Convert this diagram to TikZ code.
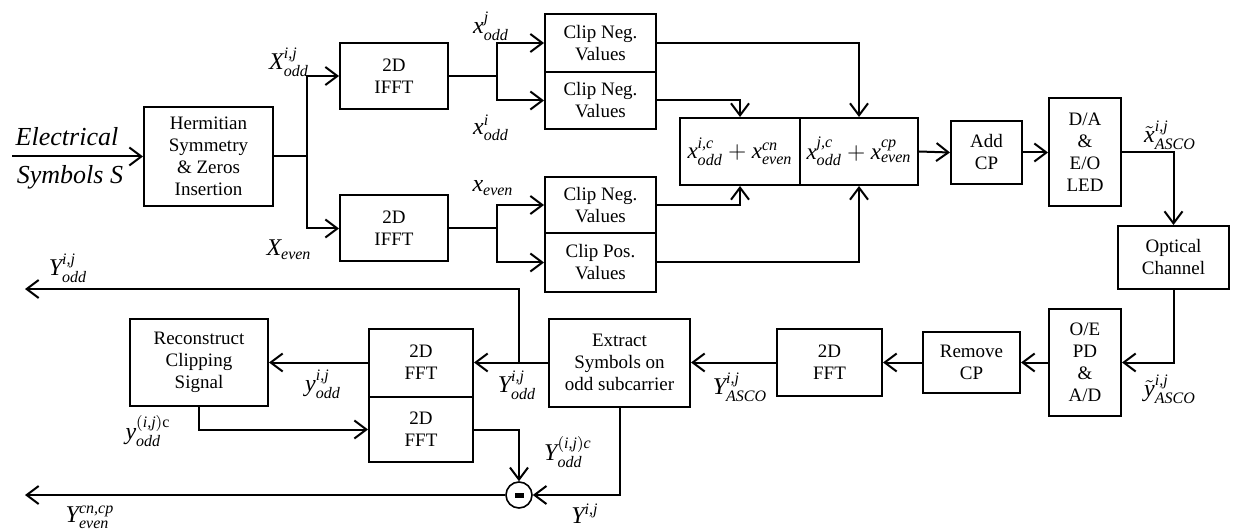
\documentclass[tikz,border=0pt]{standalone}
\usepackage{amsmath}
\usepackage{fontspec}
\setmainfont{Liberation Serif}
\usetikzlibrary{arrows.meta}
\newcommand\mi[1]{\textit{#1}}
\begin{document}
\begin{tikzpicture}[x=0.5pt,y=-0.5pt,
  box/.style={draw,line width=1pt,inner sep=0pt,align=center,font=\fontsize{9.5}{11}\selectfont},
  arr/.style={line width=1pt,-{Straight Barb[length=6pt,width=9pt,line width=1pt]}},
  ln/.style={line width=1pt},
  lab/.style={inner sep=0pt,font=\fontsize{12}{14}\selectfont}]
\useasboundingbox (0,0) rectangle (1236,529);
% transmitter
\node[box,minimum width=64.5pt,minimum height=49.5pt] (herm) at (208.5,156.5) {Hermitian\\Symmetry\\\& Zeros\\Insertion};
\node[box,minimum width=54pt,minimum height=33pt] (ifft1) at (394,76) {2D\\IFFT};
\node[box,minimum width=54pt,minimum height=33pt] (ifft2) at (394,228.5) {2D\\IFFT};
\node[box,minimum width=55.5pt,minimum height=29pt] (clip1) at (600.5,43) {Clip Neg.\\Values};
\node[box,minimum width=55.5pt,minimum height=28.5pt] (clip2) at (600.5,100.5) {Clip Neg.\\Values};
\node[box,minimum width=55.5pt,minimum height=28pt] (clip3) at (600.5,205) {Clip Neg.\\Values};
\node[box,minimum width=55.5pt,minimum height=29.5pt] (clip4) at (600.5,262.5) {Clip Pos.\\Values};
\node[box,minimum width=60pt,minimum height=33.5pt,font=\fontsize{11.5}{14}\selectfont] (combL) at (740,151.5) {$\mi{x}^{\mi{i,c}}_{\mi{odd}}+\mi{x}^{\mi{cn}}_{\mi{even}}$};
\node[box,minimum width=59pt,minimum height=33.5pt,font=\fontsize{11.5}{14}\selectfont] (combR) at (859,151.5) {$\mi{x}^{\mi{j,c}}_{\mi{odd}}+\mi{x}^{\mi{cp}}_{\mi{even}}$};
\node[box,minimum width=35.5pt,minimum height=31.5pt] (addcp) at (986.5,152.5) {Add\\CP};
\node[box,minimum width=36pt,minimum height=54pt] (da) at (1085,152.5) {D/A\\\&\\E/O\\LED};
\node[box,minimum width=55.5pt,minimum height=31.5pt] (opt) at (1173.5,257.5) {Optical\\Channel};
% receiver
\node[box,minimum width=36pt,minimum height=53.5pt] (oe) at (1085,362.5) {O/E\\PD\\\&\\A/D};
\node[box,minimum width=48.5pt,minimum height=30.5pt] (rcp) at (971.5,362.5) {Remove\\CP};
\node[box,minimum width=52.5pt,minimum height=33.5pt] (fftR) at (829.5,362.5) {2D\\FFT};
\node[box,minimum width=70.5pt,minimum height=44pt] (ext) at (619.5,362.5) {Extract\\Symbols on\\odd subcarrier};
\node[box,minimum width=52pt,minimum height=34pt] (fftU) at (421,362.5) {2D\\FFT};
\node[box,minimum width=52pt,minimum height=32.5pt] (fftL) at (421,429.5) {2D\\FFT};
\node[box,minimum width=69pt,minimum height=43.5pt] (rec) at (199,362.5) {Reconstruct\\Clipping\\Signal};
\node[draw,circle,line width=0.8pt,minimum size=13pt,inner sep=0pt] (minus) at (519,495) {};
\fill (minus.center) ++(-4.5,-2.5) rectangle ++(9,5);
% coordinates
\coordinate (in) at (12,156.5);
\coordinate (j1) at (307,156.5);
\coordinate (j2) at (497,76);
\coordinate (j3) at (497,228.5);
\coordinate (j4) at (519,362.5);
\coordinate (outU) at (25,289);
\coordinate (outL) at (25,495);
% connectors
\draw[arr] (in) -- (herm.west);
\draw[ln] (herm.east) -- (j1);
\draw[arr] (j1) |- (ifft1.west);
\draw[arr] (j1) |- (ifft2.west);
\draw[ln] (ifft1.east) -- (j2);
\draw[arr] (j2) |- (clip1.west);
\draw[arr] (j2) |- (clip2.west);
\draw[ln] (ifft2.east) -- (j3);
\draw[arr] (j3) |- (clip3.west);
\draw[arr] (j3) |- (clip4.west);
\draw[arr] (clip1.east) -| (combR.north);
\draw[arr] (clip2.east) -| (combL.north);
\draw[arr] (clip3.east) -| (combL.south);
\draw[arr] (clip4.east) -| (combR.south);
\draw[arr] (combR.east) -- (addcp.west);
\draw[arr] (addcp.east) -- (da.west);
\draw[arr] (da.east) -| (opt.north);
\draw[arr] (opt.south) |- (oe.east);
\draw[arr] (oe.west) -- (rcp.east);
\draw[arr] (rcp.west) -- (fftR.east);
\draw[arr] (fftR.west) -- (ext.east);
\draw[arr] (ext.west) -- (fftU.east);
\draw[arr] (j4) |- (outU);
\draw[arr] (fftU.west) -- (rec.east);
\draw[arr] (rec.south) |- (fftL.west);
\draw[arr] (fftL.east) -| (minus.north);
\draw[arr] (ext.south) |- (minus.east);
\draw[arr] (minus.west) -- (outL);
% labels
\node[inner sep=0pt,font=\fontsize{13}{15}\selectfont\itshape] (l0) at (67,137) {Electrical};
\node[inner sep=0pt,font=\fontsize{13}{15}\selectfont\itshape] (l1) at (70,177) {Symbols S};
\node[lab] (l2) at (289,62) {$\mi{X}^{\mi{i,j}}_{\mi{odd}}$};
\node[lab] (l3) at (289,250) {$\mi{X}_{\mi{even}}$};
\node[lab] (l4) at (491,26) {$\mi{x}^{\mi{j}}_{\mi{odd}}$};
\node[lab] (l5) at (491,128) {$\mi{x}^{\mi{i}}_{\mi{odd}}$};
\node[lab] (l6) at (493,188) {$\mi{x}_{\mi{even}}$};
\node[lab] (l7) at (1170,135) {$\tilde{\mi{x}}^{\mi{i,j}}_{\mi{ASCO}}$};
\node[lab] (l8) at (1170,389) {$\tilde{\mi{y}}^{\mi{i,j}}_{\mi{ASCO}}$};
\node[lab] (l9) at (740,387) {$\mi{Y}^{\mi{i,j}}_{\mi{ASCO}}$};
\node[lab] (l10) at (517,385) {$\mi{Y}^{\mi{i,j}}_{\mi{odd}}$};
\node[lab] (l11) at (323,384) {$\mi{y}^{\mi{i,j}}_{\mi{odd}}$};
\node[lab] (l12) at (148,431) {$\mi{y}^{(\mi{i,j})\mathrm{c}}_{\mi{odd}}$};
\node[lab] (l13) at (568,452) {$\mi{Y}^{(\mi{i,j})\mi{c}}_{\mi{odd}}$};
\node[lab] (l14) at (585,514) {$\mi{Y}^{\mi{i,j}}$};
\node[lab] (l15) at (68,268) {$\mi{Y}^{\mi{i,j}}_{\mi{odd}}$};
\node[lab] (l16) at (90,517) {$\mi{Y}^{\mi{cn,cp}}_{\mi{even}}$};
\end{tikzpicture}
\end{document}
